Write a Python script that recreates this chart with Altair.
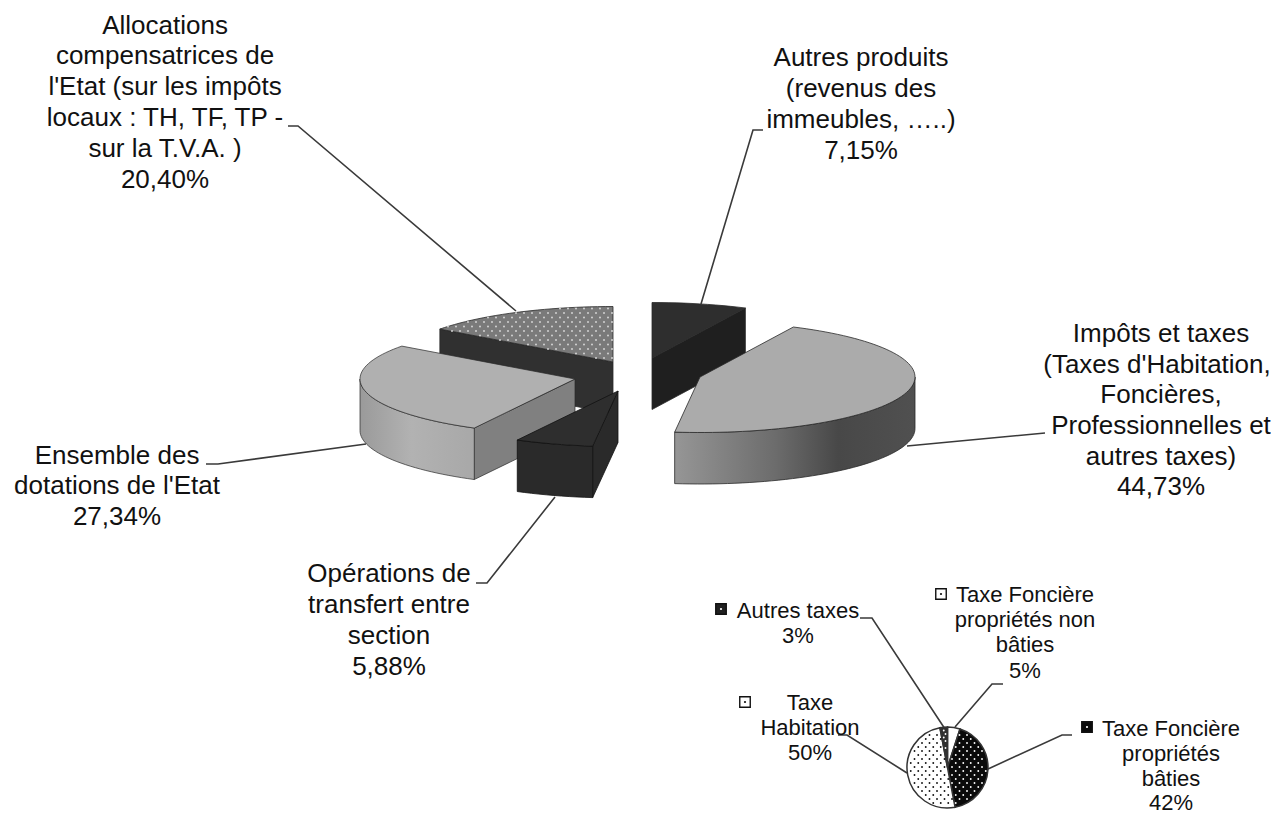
import math
import altair as alt
import pandas as pd

# ---- data: main pie (drawn shares; the last label reads 20,40% but its drawn slice is ~14.9%)
main_names = ["Autres produits", "Impôts et taxes", "Opérations de transfert", "Ensemble des dotations", "Allocations"]
main_shares = [7.15, 44.73, 5.88, 27.34, 14.90]
main_apex = [(652, 358), (700, 377), (618, 391), (575, 379), (613, 362)]

# ---- data: small pie
small_names = ["Taxe Foncière propriétés non bâties", "Taxe Foncière propriétés bâties", "Taxe Habitation", "Autres taxes"]
small_shares = [5, 42, 50, 3]
small_fill = ["#ffffff", "#0a0a0a", "#ffffff", "#303030"]
small_centre = (947.5, 767.5)
small_r = 40.5

# ---- text
FONT = "Liberation Sans"
main_labels = [
    (165, [(34, "Allocations"), (64, "compensatrices de"), (95, "l'Etat (sur les impôts"),
           (126, "locaux : TH, TF, TP -"), (157, "sur  la T.V.A. )"), (188, "20,40%")]),
    (861, [(66, "Autres produits"), (97, "(revenus des"), (128, "immeubles, …..)"), (159, "7,15%")]),
    (1161, [(342, "Impôts et taxes"), (373, "(Taxes d'Habitation,"), (403, "Foncières,"),
            (434, "Professionnelles et"), (465, "autres taxes)"), (495, "44,73%")]),
    (117, [(464, "Ensemble des"), (494, "dotations de l'Etat"), (525, "27,34%")]),
    (389, [(582, "Opérations de"), (613, "transfert entre"), (644, "section"), (675, "5,88%")]),
]
line_x_override = {"(Taxes d'Habitation,": 1157}
small_labels = [
    (798, [(618, "Autres taxes"), (643, "3%")]),
    (1025, [(602, "Taxe Foncière"), (627, "propriétés non"), (652, "bâties"), (678, "5%")]),
    (1171, [(736, "Taxe Foncière"), (761, "propriétés"), (786, "bâties"), (810, "42%")]),
    (810, [(710, "Taxe"), (735, "Habitation"), (760, "50%")]),
]
leaders = [
    [(288, 126), (298, 126), (516, 311)],
    [(763, 130), (753, 130), (701, 304)],
    [(1045, 433), (907, 446)],
    [(206, 464), (218, 464), (366, 444)],
    [(476, 583), (487, 583), (555, 497)],
    [(860, 618), (872, 618), (945, 729)],
    [(1003, 684), (992, 684), (955, 727)],
    [(1072, 735), (1062, 735), (988, 769)],
    [(838, 735), (847, 735), (907, 773)],
]
key_squares = [(721, 609, "#202020"), (941, 594, "#ffffff"), (1087, 727, "#0a0a0a"), (745, 702, "#ffffff")]

A, B, DEPTH = 215, 55.5, 51.5

X = alt.X("x:Q", scale=alt.Scale(domain=[8, 1271], nice=False, zero=False), axis=None)
Y = alt.Y("y:Q", scale=alt.Scale(domain=[814, 8], nice=False, zero=False), axis=None)


def ell(c, t):
    r = math.radians(t)
    return (c[0] + A * math.sin(r), c[1] - B * math.cos(r))


def arc_pts(c, t0, t1, dy=0):
    n = max(2, int(abs(t1 - t0) / 2))
    pts = [ell(c, t0 + (t1 - t0) * i / n) for i in range(n + 1)]
    return [(p[0], p[1] + dy) for p in pts]


def poly(pts, fill, stroke="#2a2a2a", sw=0.8):
    pts = list(pts) + [pts[0]]
    df = pd.DataFrame({"x": [p[0] for p in pts], "y": [p[1] for p in pts], "i": range(len(pts))})
    return alt.Chart(df).mark_line(fill=fill, stroke=stroke, strokeWidth=sw, strokeJoin="round").encode(
        x=X, y=Y, order="i:Q")


def grad(stops):
    return alt.Gradient(gradient="linear", x1=0, x2=1, y1=0, y2=0,
                        stops=[alt.GradientStop(offset=o, color=c) for o, c in stops])


# angular ranges from shares
angles, acc = [], 0.0
for s in main_shares:
    angles.append((acc * 3.6, (acc + s) * 3.6))
    acc += s

layers = []
autres, impots, oper, ens, alloc = range(5)


def down(p):
    return (p[0], p[1] + DEPTH)


# Allocations
c, (t0, t1) = main_apex[alloc], angles[alloc]
p0 = ell(c, t0)
layers.append(poly([c, p0, down(p0), down(c)], "#303030"))
top = [c] + arc_pts(c, t0, t1)
layers.append(poly(top, "#7a7a7a"))


def inside(pts, x, y):
    hit = False
    for i in range(len(pts)):
        x1, y1 = pts[i]
        x2, y2 = pts[(i + 1) % len(pts)]
        if (y1 > y) != (y2 > y) and x < x1 + (y - y1) * (x2 - x1) / (y2 - y1):
            hit = not hit
    return hit


def grid(x0, x1, y0, y1, dx, dy):
    out, row, y = [], 0, y0
    while y <= y1:
        x = x0 + (dx / 2 if row % 2 else 0)
        while x <= x1:
            out.append((x, y))
            x += dx
        y += dy
        row += 1
    return out


dots = [p for p in grid(436, 616, 304, 364, 8, 4.5) if inside(top, p[0], p[1])]
dots_df = pd.DataFrame(dots, columns=["x", "y"])
layers.append(alt.Chart(dots_df).mark_circle(size=3.5, color="#d8d8d8", opacity=1).encode(x=X, y=Y))

# Autres produits
c, (t0, t1) = main_apex[autres], angles[autres]
p1 = ell(c, t1)
layers.append(poly([c, p1, down(p1), down(c)], "#1f1f1f"))
layers.append(poly([c] + arc_pts(c, t0, t1), "#2e2e2e"))

# Ensemble des dotations
c, (t0, t1) = main_apex[ens], angles[ens]
p0 = ell(c, t0)
layers.append(poly([c, p0, down(p0), down(c)], "#808080", sw=0.7))
w = arc_pts(c, t0, 270)
layers.append(poly(w + [down(p) for p in reversed(w)],
                   grad([(0, "#9a9a9a"), (0.45, "#b2b2b2"), (1, "#a8a8a8")]), sw=0.7))
layers.append(poly([c] + arc_pts(c, t0, t1), "#b0b0b0", sw=0.7))

# Opérations de transfert
c, (t0, t1) = main_apex[oper], angles[oper]
p0 = ell(c, t0)
layers.append(poly([c, p0, down(p0), down(c)], "#2a2a2a", stroke="#111111"))
w = arc_pts(c, t0, t1)
layers.append(poly(w + [down(p) for p in reversed(w)], "#2a2a2a", stroke="#111111"))
layers.append(poly([c] + w, "#2e2e2e", stroke="#111111"))

# Impôts et taxes
c, (t0, t1) = main_apex[impots], angles[impots]
w = arc_pts(c, 90, t1)
layers.append(poly(w + [down(p) for p in reversed(w)],
                   grad([(0, "#969696"), (0.42, "#6c6c6c"), (0.68, "#484848"), (1, "#505050")])))
layers.append(poly([c] + arc_pts(c, t0, t1), "#ababab"))

# Leader lines
rows = []
for k, seg in enumerate(leaders):
    for i, (x, y) in enumerate(seg):
        rows.append({"x": x, "y": y, "k": k, "i": i})
layers.append(alt.Chart(pd.DataFrame(rows)).mark_line(color="#3a3a3a", strokeWidth=1.6).encode(
    x=X, y=Y, detail="k:N", order="i:Q"))

# Small pie
cx, cy = small_centre
acc = 0.0
wedges = []
for n, s, f in zip(small_names, small_shares, small_fill):
    wedges.append({"x": cx, "y": cy, "name": n, "t0": acc * 2 * math.pi / 100,
                   "t1": (acc + s) * 2 * math.pi / 100, "f": f})
    acc += s
layers.append(alt.Chart(pd.DataFrame(wedges)).mark_arc(radius=small_r, stroke="#333333", strokeWidth=1.5).encode(
    x=X, y=Y,
    theta=alt.Theta("t0:Q", scale=None), theta2="t1:Q",
    fill=alt.Fill("f:N", scale=None)))


def small_dots(i, colour, dx, dy):
    a0 = sum(small_shares[:i]) * 3.6
    a1 = a0 + small_shares[i] * 3.6
    out = []
    for x, y in grid(cx - small_r, cx + small_r, cy - small_r, cy + small_r, dx, dy):
        rr = math.hypot(x - cx, y - cy)
        ang = math.degrees(math.atan2(x - cx, cy - y)) % 360
        if rr < small_r - 2 and a0 + 2 < ang < a1 - 2 and rr > 3:
            out.append((x, y))
    df = pd.DataFrame(out, columns=["x", "y"])
    return alt.Chart(df).mark_circle(size=3.5, color=colour, opacity=1).encode(x=X, y=Y)


layers.append(small_dots(1, "#ffffff", 7.5, 4))
layers.append(small_dots(2, "#111111", 7.5, 4))
layers.append(small_dots(3, "#ffffff", 3.5, 3.5))

# Legend keys
kdf = pd.DataFrame(key_squares, columns=["x", "y", "f"])
layers.append(alt.Chart(kdf).mark_square(size=110, stroke="#111111", strokeWidth=1.4, opacity=1).encode(
    x=X, y=Y, fill=alt.Fill("f:N", scale=None)))
kd = pd.DataFrame([(721, 609), (1087, 727)], columns=["x", "y"])
layers.append(alt.Chart(kd).mark_circle(size=5, color="#ffffff", opacity=1).encode(x=X, y=Y))
kd2 = pd.DataFrame([(941, 594), (745, 702)], columns=["x", "y"])
layers.append(alt.Chart(kd2).mark_circle(size=5, color="#111111", opacity=1).encode(x=X, y=Y))


def text_layer(groups, size):
    r = []
    for xc, lines in groups:
        for y, t in lines:
            r.append({"x": line_x_override.get(t, xc), "y": y, "t": t})
    return alt.Chart(pd.DataFrame(r)).mark_text(
        font=FONT, fontSize=size, color="#111111", align="center", baseline="alphabetic"
    ).encode(x=X, y=Y, text="t:N")


layers.append(text_layer(main_labels, 26))
layers.append(text_layer(small_labels, 22))

chart = alt.layer(*layers).properties(
    width=1263, height=806, padding=0, autosize=alt.AutoSizeParams(type="none"),
    background="#ffffff"
).configure_view(stroke=None)

chart.save("out.html", embed_options={"renderer": "svg", "actions": False})
